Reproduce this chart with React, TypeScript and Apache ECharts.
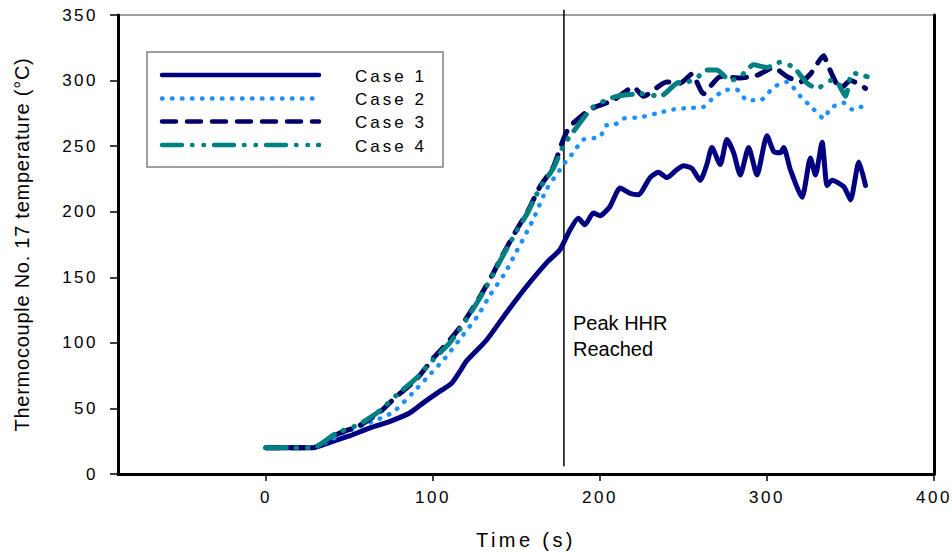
import React, { useEffect, useRef } from "react";
import * as echarts from "echarts";

// ---- Data ----
const case1Time = [0, 10, 20, 28, 38, 50, 62, 74, 86, 95, 104, 111, 116, 120, 132, 144, 156, 168, 176, 182, 187, 191, 196, 200, 206, 212, 218, 223, 230, 235, 240, 246, 250, 255, 260, 264, 267, 272, 276, 280, 284, 289, 294, 300, 304, 308, 310, 314, 321, 326, 329, 333, 336, 339, 346, 350, 355, 359];
const case1Temp = [20, 20, 20, 20, 24, 29, 35, 40, 46.5, 55, 63, 69, 78, 86, 102, 123, 143, 161, 171, 186, 195, 190, 199, 197, 204, 218, 214, 213, 226, 230, 226, 232, 235, 233, 224, 236, 249, 236, 255, 245, 228, 249, 228, 258, 246, 245, 249, 232, 211, 241, 228, 253, 220, 224, 219, 209, 238, 220];

const case2Time = [0, 28, 46, 62, 76, 88, 99, 107, 118, 127, 134, 143, 146, 160, 168, 176, 180, 184, 190, 200, 204, 208, 214, 224, 234, 244, 252, 262, 268, 276, 282, 288, 296, 304, 312, 320, 328, 334, 338, 346, 351, 356, 360];
const case2Temp = [20, 20, 31, 39, 47, 62, 77, 88, 106, 121, 136, 153, 160, 194, 217, 232, 239, 245, 255, 257, 266, 266, 271, 272, 275, 278, 279, 280, 287, 293, 293, 285, 285, 295, 299, 288, 278, 271, 279, 283, 278, 280, 276];

const case3Time = [0, 28, 42, 56, 68, 78, 90, 100, 110, 118, 128, 136, 140, 150, 157, 164, 172, 178, 182, 194, 208, 220, 226, 240, 248, 255, 262, 272, 284, 294, 304, 312, 320, 326, 334, 336, 344, 350, 359];
const case3Temp = [20, 20, 30, 37, 47, 59, 72, 88, 102, 115, 135, 153, 163, 186, 201, 219, 234, 255, 265, 278, 285, 295, 288, 299, 298, 305, 290, 303, 302, 304, 310, 303, 299, 305, 319, 313, 294, 300, 294];

const case4Time = [0, 28, 42, 56, 68, 78, 90, 100, 110, 118, 128, 136, 140, 150, 157, 164, 172, 178, 184, 196, 210, 225, 236, 246, 256, 264, 270, 278, 284, 292, 300, 308, 316, 324, 330, 338, 342, 347, 351, 357, 360];
const case4Temp = [20, 20, 31, 38, 48, 60, 73, 87, 100, 114, 134, 152, 162, 185, 200, 218, 233, 250, 261, 280, 288, 290, 288, 298, 300, 308, 308, 300, 303, 312, 310, 314, 310, 298, 294, 300, 299, 288, 306, 304, 303];

const peakTime = 178.4;
const peakLineRange = [6, 354];

const xTickValues = [0, 100, 200, 300, 400];
const seriesNames = ["Case 1", "Case 2", "Case 3", "Case 4"];
const xAxisTitle = "Time (s)";
const yAxisTitle = "Thermocouple No. 17 temperature (°C)";
const peakText = "Peak HHR\nReached";

const pairs = (t: number[], v: number[]) => t.map((x, i) => [x, v[i]]);

const colors = ["#000080", "#1E90FF", "#000066", "#008080"];
const dashes: (number[] | null)[] = [null, [0.5, 9.5], [14, 11], [20, 10, 0.5, 11, 0.5, 10]];
const widths = [5, 4.5, 5, 5];

export default function App() {
  const ref = useRef<HTMLDivElement>(null);

  useEffect(() => {
    document.body.style.margin = "0";
    if (!ref.current) return;
    const chart = echarts.init(ref.current, null, { renderer: "svg" });

    const data = [
      pairs(case1Time, case1Temp),
      pairs(case2Time, case2Temp),
      pairs(case3Time, case3Temp),
      pairs(case4Time, case4Temp),
    ];

    const font = "'Liberation Sans', Arial, sans-serif";

    const series: any[] = data.map((d, i) => ({
      name: seriesNames[i],
      type: "line",
      data: d,
      showSymbol: false,
      symbol: "none",
      smooth: 0.2,
      silent: true,
      lineStyle: {
        color: colors[i],
        width: widths[i],
        type: dashes[i] ? dashes[i] : "solid",
        cap: "round",
        join: "round",
      },
      z: 3 + i,
    }));

    series.push({
      name: "peak",
      type: "line",
      data: [
        [peakTime, peakLineRange[0]],
        [peakTime, peakLineRange[1]],
      ],
      clip: false,
      symbol: "none",
      silent: true,
      lineStyle: { color: "#000", width: 1.5 },
      z: 2,
    });

    const legendRows = [75, 98.5, 121.5, 145];
    const legendGraphics: any[] = [
      {
        type: "rect",
        shape: { x: 147, y: 52, width: 296, height: 115 },
        style: { fill: "#fff", stroke: "#808080", lineWidth: 1.5 },
        z: 10,
      },
    ];
    seriesNames.forEach((n, i) => {
      legendGraphics.push({
        type: "line",
        shape: { x1: 162, y1: legendRows[i], x2: 319, y2: legendRows[i] },
        style: {
          stroke: colors[i],
          lineWidth: 4.5,
          lineDash: dashes[i] || null,
          lineCap: "round",
        },
        z: 11,
      });
      legendGraphics.push({
        type: "text",
        x: 355,
        y: legendRows[i] + 1,
        style: {
          text: n,
          font: `17px ${font}`,
          fill: "#000",
          verticalAlign: "middle",
          align: "left",
        },
        z: 11,
      });
    });

    chart.setOption({
      animation: false,
      backgroundColor: "#fff",
      textStyle: { fontFamily: font, color: "#000" },
      grid: {
        left: 118,
        top: 15,
        right: 18,
        bottom: 81,
        show: true,
        borderColor: "#808080",
        borderWidth: 1.5,
        backgroundColor: "transparent",
        containLabel: false,
      },
      xAxis: {
        type: "value",
        min: -88.6,
        max: 400,
        name: xAxisTitle,
        nameLocation: "middle",
        nameGap: 56,
        nameTextStyle: { fontSize: 20, color: "#000", fontFamily: font },
        axisLine: { onZero: false, lineStyle: { color: "#000", width: 3 } },
        axisTick: { show: true, length: 7, lineStyle: { color: "#000", width: 1.5 }, customValues: xTickValues },
        axisLabel: { fontSize: 17, color: "#000", margin: 15, customValues: xTickValues, fontFamily: font },
        splitLine: { show: false },
      },
      yAxis: [
        {
          type: "value",
          min: 0,
          max: 350,
          interval: 50,
          name: yAxisTitle,
          nameLocation: "middle",
          nameGap: 86,
          nameTextStyle: { fontSize: 20, color: "#000", fontFamily: font },
          axisLine: { show: true, onZero: false, lineStyle: { color: "#000", width: 3 } },
          axisTick: { show: true, length: 8, lineStyle: { color: "#000", width: 1.5 } },
          axisLabel: { fontSize: 17, color: "#000", margin: 20, fontFamily: font },
          splitLine: { show: false },
        },
        {
          type: "value",
          min: 0,
          max: 350,
          interval: 50,
          position: "right",
          axisLine: { show: true, onZero: false, lineStyle: { color: "#000", width: 3 } },
          axisTick: { show: false },
          axisLabel: { show: false },
          splitLine: { show: false },
        },
      ],
      series,
      graphic: [
        ...legendGraphics,
        {
          type: "text",
          x: 573,
          y: 310,
          style: {
            text: peakText,
            font: `20px ${font}`,
            fill: "#000",
            lineHeight: 26,
            verticalAlign: "top",
            align: "left",
          },
          z: 11,
        },
      ],
    });

    const spacing = (txt: string): string | null => {
      const t = txt.trim();
      if (/^-?\d+$/.test(t)) return "2.5px";
      if (/^Case \d$/.test(t)) return "3px";
      if (t === xAxisTitle) return "3.4px";
      if (t === yAxisTitle) return "0.75px";
      return null;
    };
    const applySpacing = () => {
      const root = ref.current;
      if (!root) return;
      root.querySelectorAll("text").forEach((el) => {
        const s = spacing(el.textContent || "");
        if (s) (el as SVGTextElement).style.letterSpacing = s;
      });
    };
    chart.on("rendered", applySpacing);
    applySpacing();
    const timer = setTimeout(applySpacing, 50);

    return () => {
      clearTimeout(timer);
      chart.dispose();
    };
  }, []);

  return <div ref={ref} style={{ width: 952, height: 555 }} />;
}
